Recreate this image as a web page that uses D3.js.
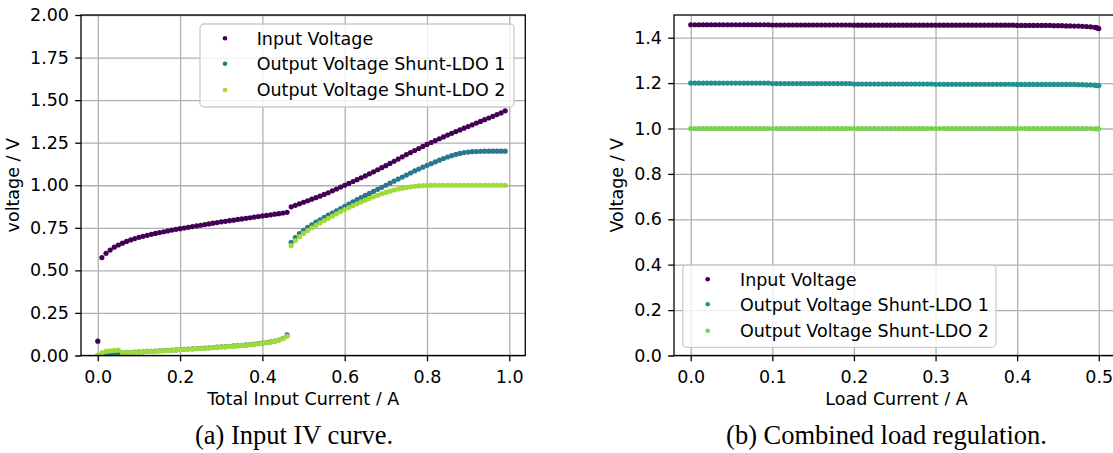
<!DOCTYPE html>
<html>
<head>
<meta charset="utf-8">
<script src="https://cdn.jsdelivr.net/npm/d3@7"></script>
<style>
  body { margin: 0; background: #fff; }
  text { font-family: "DejaVu Sans", sans-serif; }
  .caption { font-family: "Liberation Serif", "Times New Roman", serif; }
</style>
</head>
<body>
<svg id="fig" width="1113" height="453"></svg>
<script>
// ---- DATA ----

// (a) input IV curve : total input current / A
var ivCurrent = [
  0.00,0.01,0.02,0.03,0.04,0.05,0.06,0.07,0.08,0.09,
  0.10,0.11,0.12,0.13,0.14,0.15,0.16,0.17,0.18,0.19,
  0.20,0.21,0.22,0.23,0.24,0.25,0.26,0.27,0.28,0.29,
  0.30,0.31,0.32,0.33,0.34,0.35,0.36,0.37,0.38,0.39,
  0.40,0.41,0.42,0.43,0.44,0.45,0.46,0.47,0.48,0.49,
  0.50,0.51,0.52,0.53,0.54,0.55,0.56,0.57,0.58,0.59,
  0.60,0.61,0.62,0.63,0.64,0.65,0.66,0.67,0.68,0.69,
  0.70,0.71,0.72,0.73,0.74,0.75,0.76,0.77,0.78,0.79,
  0.80,0.81,0.82,0.83,0.84,0.85,0.86,0.87,0.88,0.89,
  0.90,0.91,0.92,0.93,0.94,0.95,0.96,0.97,0.98,0.99
];
var ivInput = [
  0.084,0.575,0.600,0.619,0.636,0.649,0.660,0.670,0.679,0.687,
  0.694,0.700,0.706,0.712,0.717,0.722,0.727,0.732,0.737,0.741,
  0.745,0.749,0.753,0.757,0.761,0.765,0.769,0.773,0.777,0.781,
  0.785,0.788,0.792,0.795,0.799,0.802,0.806,0.809,0.813,0.816,
  0.820,0.823,0.826,0.830,0.833,0.837,0.841,0.873,0.882,0.891,
  0.900,0.909,0.918,0.927,0.936,0.946,0.956,0.967,0.978,0.989,
  1.000,1.011,1.022,1.033,1.044,1.055,1.067,1.079,1.091,1.103,
  1.115,1.128,1.141,1.154,1.167,1.180,1.192,1.204,1.216,1.228,
  1.240,1.251,1.262,1.273,1.284,1.295,1.305,1.315,1.325,1.335,
  1.345,1.355,1.365,1.375,1.385,1.395,1.405,1.415,1.425,1.437
];
var ivLdo1 = [
  0.000,0.003,0.005,0.006,0.007,0.008,0.016,0.018,0.019,0.020,
  0.021,0.022,0.024,0.025,0.026,0.028,0.029,0.030,0.032,0.033,
  0.035,0.036,0.038,0.039,0.041,0.042,0.044,0.045,0.047,0.049,
  0.051,0.052,0.054,0.056,0.058,0.060,0.062,0.064,0.067,0.070,
  0.073,0.076,0.080,0.085,0.091,0.101,0.122,0.665,0.693,0.716,
  0.735,0.752,0.768,0.783,0.797,0.811,0.824,0.837,0.850,0.863,
  0.876,0.889,0.902,0.915,0.928,0.940,0.952,0.964,0.976,0.988,
  1.000,1.012,1.024,1.036,1.048,1.060,1.072,1.084,1.095,1.106,
  1.117,1.127,1.137,1.147,1.157,1.166,1.174,1.181,1.187,1.192,
  1.195,1.197,1.198,1.199,1.200,1.200,1.200,1.200,1.200,1.200
];
var ivLdo2 = [
  0.003,0.015,0.024,0.028,0.030,0.031,0.016,0.017,0.018,0.019,
  0.020,0.021,0.023,0.024,0.025,0.027,0.028,0.029,0.031,0.032,
  0.034,0.035,0.037,0.038,0.040,0.041,0.043,0.044,0.046,0.048,
  0.050,0.051,0.053,0.055,0.057,0.059,0.061,0.063,0.066,0.069,
  0.072,0.075,0.079,0.084,0.090,0.099,0.113,0.645,0.675,0.698,
  0.717,0.734,0.750,0.765,0.779,0.793,0.806,0.819,0.832,0.845,
  0.857,0.869,0.880,0.891,0.902,0.912,0.922,0.932,0.941,0.950,
  0.958,0.965,0.972,0.978,0.983,0.987,0.991,0.994,0.996,0.998,
  0.999,1.000,1.000,1.000,1.000,1.000,1.000,1.000,1.000,1.000,
  1.000,1.000,1.000,1.000,1.000,1.000,1.000,1.000,1.000,1.000
];

// (b) load regulation : load current / A
var regCurrent = [
  0.000,0.005,0.010,0.015,0.020,0.025,0.030,0.035,0.040,0.045,
  0.050,0.055,0.060,0.065,0.070,0.075,0.080,0.085,0.090,0.095,
  0.100,0.105,0.110,0.115,0.120,0.125,0.130,0.135,0.140,0.145,
  0.150,0.155,0.160,0.165,0.170,0.175,0.180,0.185,0.190,0.195,
  0.200,0.205,0.210,0.215,0.220,0.225,0.230,0.235,0.240,0.245,
  0.250,0.255,0.260,0.265,0.270,0.275,0.280,0.285,0.290,0.295,
  0.300,0.305,0.310,0.315,0.320,0.325,0.330,0.335,0.340,0.345,
  0.350,0.355,0.360,0.365,0.370,0.375,0.380,0.385,0.390,0.395,
  0.400,0.405,0.410,0.415,0.420,0.425,0.430,0.435,0.440,0.445,
  0.450,0.455,0.460,0.465,0.470,0.475,0.480,0.485,0.490,0.495,
  0.497,0.499,0.500
];
var regInput = [
  1.457,1.457,1.457,1.457,1.457,1.457,1.457,1.457,1.457,1.457,
  1.457,1.457,1.457,1.457,1.457,1.457,1.457,1.457,1.457,1.457,
  1.456,1.456,1.456,1.456,1.456,1.456,1.456,1.456,1.456,1.456,
  1.456,1.456,1.456,1.456,1.456,1.456,1.456,1.456,1.456,1.456,
  1.455,1.455,1.455,1.455,1.455,1.455,1.455,1.455,1.455,1.455,
  1.455,1.455,1.455,1.455,1.455,1.455,1.455,1.455,1.455,1.455,
  1.455,1.455,1.455,1.455,1.455,1.455,1.455,1.455,1.455,1.455,
  1.455,1.455,1.455,1.455,1.455,1.455,1.455,1.455,1.455,1.455,
  1.454,1.454,1.454,1.454,1.454,1.454,1.454,1.454,1.454,1.453,
  1.453,1.453,1.452,1.452,1.451,1.451,1.450,1.449,1.448,1.446,
  1.444,1.442,1.440
];
var regLdo1 = [
  1.200,1.200,1.200,1.200,1.200,1.200,1.200,1.200,1.200,1.200,
  1.200,1.200,1.200,1.200,1.200,1.200,1.200,1.200,1.200,1.200,
  1.198,1.198,1.198,1.198,1.198,1.198,1.198,1.198,1.198,1.198,
  1.198,1.198,1.198,1.198,1.198,1.198,1.198,1.198,1.198,1.198,
  1.196,1.196,1.196,1.196,1.196,1.196,1.196,1.196,1.196,1.196,
  1.196,1.196,1.196,1.196,1.196,1.196,1.196,1.196,1.196,1.196,
  1.195,1.195,1.195,1.195,1.195,1.195,1.195,1.195,1.195,1.195,
  1.195,1.195,1.195,1.195,1.195,1.195,1.195,1.195,1.195,1.195,
  1.194,1.194,1.194,1.194,1.194,1.194,1.194,1.194,1.194,1.194,
  1.194,1.194,1.194,1.194,1.194,1.193,1.193,1.192,1.192,1.191,
  1.190,1.189,1.189
];
var regLdo2 = [
  1.000,1.000,1.000,1.000,1.000,1.000,1.000,1.000,1.000,1.000,
  1.000,1.000,1.000,1.000,1.000,1.000,1.000,1.000,1.000,1.000,
  1.000,1.000,1.000,1.000,1.000,1.000,1.000,1.000,1.000,1.000,
  1.000,1.000,1.000,1.000,1.000,1.000,1.000,1.000,1.000,1.000,
  1.000,1.000,1.000,1.000,1.000,1.000,1.000,1.000,1.000,1.000,
  1.000,1.000,1.000,1.000,1.000,1.000,1.000,1.000,1.000,1.000,
  1.000,1.000,1.000,1.000,1.000,1.000,1.000,1.000,1.000,1.000,
  1.000,1.000,1.000,1.000,1.000,1.000,1.000,1.000,1.000,1.000,
  1.000,1.000,1.000,1.000,1.000,1.000,1.000,1.000,1.000,1.000,
  1.000,1.000,1.000,1.000,1.000,1.000,1.000,1.000,1.000,0.999,
  0.999,0.999,0.999
];

var seriesNames = ["Input Voltage", "Output Voltage Shunt-LDO 1", "Output Voltage Shunt-LDO 2"];
var ivColors  = ["#440154", "#2a788e", "#a0da39"];
var regColors = ["#440154", "#21918c", "#7ad151"];

var ivXTicks  = [0, 0.2, 0.4, 0.6, 0.8, 1.0];
var ivYTicks  = [0, 0.25, 0.5, 0.75, 1.0, 1.25, 1.5, 1.75, 2.0];
var regXTicks = [0, 0.1, 0.2, 0.3, 0.4, 0.5];
var regYTicks = [0, 0.2, 0.4, 0.6, 0.8, 1.0, 1.2, 1.4];

// ---- DRAWING ----
var svg = d3.select("#fig");
var FONT = 17.5;

// the figure was cropped just under the axis labels
svg.append("defs").append("clipPath").attr("id", "figclip")
  .append("rect").attr("x", 0).attr("y", 0).attr("width", 1113).attr("height", 405.5);

var fig = svg.append("g").attr("clip-path", "url(#figclip)");

function drawPanel(p) {
  var x = d3.scaleLinear().domain(p.xDomain).range([p.left, p.right]);
  var y = d3.scaleLinear().domain(p.yDomain).range([p.bottom, p.top]);
  var g = fig.append("g");
  var clipId = "clip-" + p.id;

  g.append("clipPath").attr("id", clipId).append("rect")
    .attr("x", p.left).attr("y", p.top)
    .attr("width", p.right - p.left).attr("height", p.bottom - p.top);

  // grid
  g.append("g").attr("transform", "translate(0," + p.bottom + ")")
    .call(d3.axisBottom(x).tickValues(p.xTicks).tickSize(-(p.bottom - p.top)).tickFormat(""))
    .call(function (s) { s.select(".domain").remove(); })
    .selectAll("line").attr("stroke", "#b0b0b0").attr("stroke-width", 1.3);
  g.append("g").attr("transform", "translate(" + p.left + ",0)")
    .call(d3.axisLeft(y).tickValues(p.yTicks).tickSize(-(p.right - p.left)).tickFormat(""))
    .call(function (s) { s.select(".domain").remove(); })
    .selectAll("line").attr("stroke", "#b0b0b0").attr("stroke-width", 1.3);

  // points
  var pts = g.append("g").attr("clip-path", "url(#" + clipId + ")");
  p.series.forEach(function (ser, k) {
    pts.append("g").selectAll("circle")
      .data(ser)
      .enter().append("circle")
      .attr("cx", function (d, i) { return x(p.xs[i]); })
      .attr("cy", function (d) { return y(d); })
      .attr("r", 2.6)
      .attr("fill", p.colors[k]);
  });

  // axes
  var xAx = g.append("g").attr("transform", "translate(0," + p.bottom + ")")
    .call(d3.axisBottom(x).tickValues(p.xTicks).tickSize(5.8).tickPadding(9).tickFormat(d3.format(p.xFmt)));
  var yAx = g.append("g").attr("transform", "translate(" + p.left + ",0)")
    .call(d3.axisLeft(y).tickValues(p.yTicks).tickSize(5.8).tickPadding(6.2).tickFormat(d3.format(p.yFmt)));
  [xAx, yAx].forEach(function (a) {
    a.select(".domain").remove();
    a.selectAll("line").attr("stroke", "#000").attr("stroke-width", 1.3);
    a.selectAll("text").attr("font-size", FONT).attr("fill", "#000")
      .attr("font-family", "DejaVu Sans, sans-serif");
  });

  // spines
  g.append("rect")
    .attr("x", p.left).attr("y", p.top)
    .attr("width", p.right - p.left).attr("height", p.bottom - p.top)
    .attr("fill", "none").attr("stroke", "#000").attr("stroke-width", 1.3);

  // axis labels
  g.append("text")
    .attr("x", (p.left + p.right) / 2).attr("y", 405.3)
    .attr("text-anchor", "middle").attr("font-size", FONT)
    .text(p.xLabel);
  g.append("text")
    .attr("transform", "translate(" + p.yLabelX + "," + (p.top + p.bottom) / 2 + ") rotate(-90)")
    .attr("text-anchor", "middle").attr("font-size", FONT)
    .text(p.yLabel);

  // legend
  var L = p.legend;
  var lg = g.append("g");
  lg.append("rect")
    .attr("x", L.x).attr("y", L.y).attr("width", L.w).attr("height", L.h)
    .attr("rx", 4).attr("ry", 4)
    .attr("fill", "#fff").attr("fill-opacity", 0.8)
    .attr("stroke", "#cccccc").attr("stroke-width", 1.3);
  seriesNames.forEach(function (name, k) {
    var yy = L.rows[k];
    lg.append("circle").attr("cx", L.markX).attr("cy", yy).attr("r", 2.3).attr("fill", p.colors[k]);
    lg.append("text").attr("x", L.textX).attr("y", yy).attr("dy", "0.36em")
      .attr("font-size", FONT).text(name);
  });
}

drawPanel({
  id: "iv",
  left: 81, right: 525.3, top: 15, bottom: 355.5,
  xDomain: [-0.0408, 1.0389], yDomain: [0, 2],
  xTicks: ivXTicks, yTicks: ivYTicks, xFmt: ".1f", yFmt: ".2f",
  xs: ivCurrent, series: [ivInput, ivLdo1, ivLdo2], colors: ivColors,
  xLabel: "Total Input Current / A", yLabel: "voltage / V", yLabelX: 19,
  legend: { x: 200, y: 24, w: 314, h: 83, markX: 225, textX: 256.7, rows: [38.3, 63.7, 90] }
});

drawPanel({
  id: "reg",
  left: 674, right: 1119, top: 15, bottom: 355.5,
  xDomain: [-0.0205, 0.5248], yDomain: [0, 1.5],
  xTicks: regXTicks, yTicks: regYTicks, xFmt: ".1f", yFmt: ".1f",
  xs: regCurrent, series: [regInput, regLdo1, regLdo2], colors: regColors,
  xLabel: "Load Current / A", yLabel: "Voltage / V", yLabelX: 623,
  legend: { x: 682.7, y: 265, w: 313.3, h: 82.3, markX: 707.7, textX: 740, rows: [279.3, 304.3, 330.7] }
});

// subfigure captions
svg.append("text").attr("class", "caption")
  .attr("x", 294).attr("y", 443.5).attr("text-anchor", "middle").attr("font-size", 26.5)
  .text("(a) Input IV curve.");
svg.append("text").attr("class", "caption")
  .attr("x", 886.5).attr("y", 443.5).attr("text-anchor", "middle").attr("font-size", 26.5)
  .text("(b) Combined load regulation.");
</script>
</body>
</html>
